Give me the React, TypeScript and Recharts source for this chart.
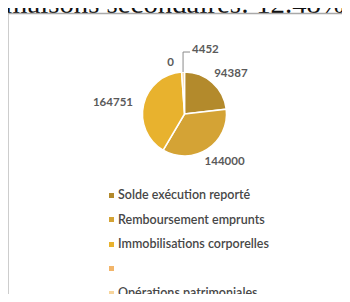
import React from 'react';
import { PieChart, Pie, Cell, Legend } from 'recharts';

const categories = [
  'Solde exécution reporté',
  'Remboursement emprunts',
  'Immobilisations corporelles',
  '',
  'Opérations patrimoniales',
];
const values = [94387, 144000, 164751, 0, 4452];
const colors = ['#b38a2c', '#d4a335', '#e8b22e', '#f2b56a', '#f7d59c'];
const titleText = 'maisons secondaires: 12.48%';

const data = categories.map((name, i) => ({ name, value: values[i] }));

const RAD = Math.PI / 180;
const polar = (cx: number, cy: number, r: number, a: number) => ({
  x: cx + r * Math.cos(-a * RAD),
  y: cy + r * Math.sin(-a * RAD),
});

const labelStyle = {
  fontFamily: 'Lato, "Open Sans", sans-serif',
  fontSize: 11.5,
  fontWeight: 700,
  fill: '#5a5a5a',
};

const renderLabel = (p: any) => {
  const { cx, cy, midAngle, outerRadius, value, percent, index } = p;
  const txt = String(value);
  if (value === 0) {
    const pt = polar(cx, cy, outerRadius + 11, midAngle);
    return (
      <text key={'l' + index} x={pt.x - 7} y={pt.y} textAnchor="end" dominantBaseline="central" style={labelStyle}>
        {txt}
      </text>
    );
  }
  if (percent < 0.02) {
    const s = polar(cx, cy, outerRadius, midAngle);
    const ey = s.y - 20;
    const ex = s.x + 7;
    return (
      <g key={'l' + index}>
        <polyline points={`${s.x},${s.y} ${s.x},${ey} ${ex},${ey}`} fill="none" stroke="#8a8a8a" strokeWidth={1} />
        <text x={ex + 2} y={ey - 4} textAnchor="start" dominantBaseline="central" style={labelStyle}>
          {txt}
        </text>
      </g>
    );
  }
  const pt = polar(cx, cy, outerRadius + 9, midAngle);
  const w = txt.length * 7.5;
  const c = Math.cos(-midAngle * RAD);
  const sn = Math.sin(-midAngle * RAD);
  return (
    <text
      key={'l' + index}
      x={pt.x + (c * w) / 2}
      y={pt.y + sn * 5}
      textAnchor="middle"
      dominantBaseline="central"
      style={labelStyle}
    >
      {txt}
    </text>
  );
};

const renderLegend = (props: any) => {
  const payload = props.payload || [];
  return (
    <div style={{ fontFamily: 'Lato, "Open Sans", sans-serif', fontSize: 12.5, color: '#474747' }}>
      {payload.map((e: any, i: number) => (
        <div key={i} style={{ height: 24.5, lineHeight: '24.5px', display: 'flex', alignItems: 'center', whiteSpace: 'nowrap' }}>
          <span style={{ display: 'inline-block', width: 5, height: 5, background: e.color, marginRight: 4 }} />
          <span style={{ fontWeight: 600 }}>{e.value}</span>
        </div>
      ))}
    </div>
  );
};

export default function App() {
  return (
    <div style={{ position: 'relative', width: 350, height: 302, margin: -8, background: '#fff', overflow: 'hidden' }}>
      <svg width={350} height={302} style={{ position: 'absolute', left: 0, top: 0 }}>
        <text
          x={5}
          y={13}
          textLength={340}
          lengthAdjust="spacingAndGlyphs"
          style={{ fontFamily: '"Liberation Serif", "DejaVu Serif", serif', fontSize: 30, fill: '#111' }}
        >
          {titleText}
        </text>
        <line x1={8} y1={13.5} x2={350} y2={13.5} stroke="#a9a9a9" strokeWidth={1.5} />
        <line x1={8} y1={13} x2={8} y2={302} stroke="#bdbdbd" strokeWidth={1.5} />
      </svg>
      <div style={{ position: 'absolute', left: 0, top: 0 }}>
        <PieChart width={350} height={302} margin={{ top: 0, right: 0, bottom: 0, left: 0 }}>
          <Pie
            data={data}
            dataKey="value"
            nameKey="name"
            cx={184.5}
            cy={114}
            outerRadius={42}
            startAngle={90}
            endAngle={-270}
            stroke="#ffffff"
            strokeWidth={1.5}
            isAnimationActive={false}
            label={renderLabel}
            labelLine={false}
          >
            {data.map((d, i) => (
              <Cell key={i} fill={colors[i]} />
            ))}
          </Pie>
          <Legend
            layout="vertical"
            align="center"
            verticalAlign="middle"
            itemSorter={(item: any) => categories.indexOf(item.value)}
            content={renderLegend}
            wrapperStyle={{ left: 109, top: 183, width: 'auto', height: 'auto' }}
          />
        </PieChart>
      </div>
    </div>
  );
}
